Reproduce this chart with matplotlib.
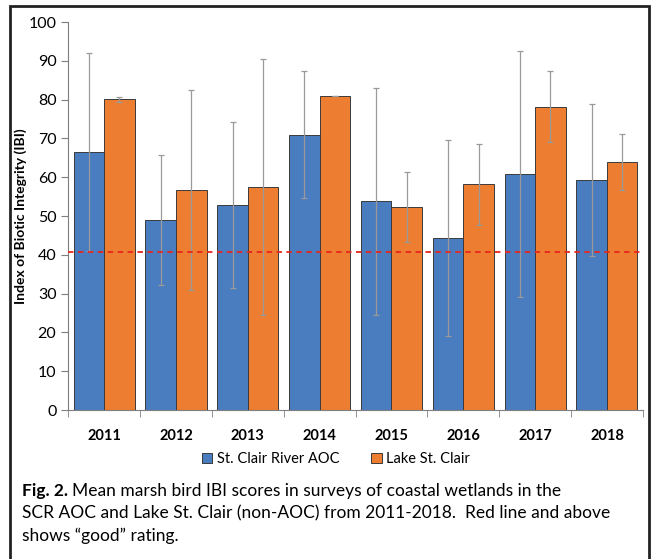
import numpy as np
import matplotlib
matplotlib.use('Agg')
import matplotlib.pyplot as plt
from matplotlib.patches import Rectangle

years = ['2011', '2012', '2013', '2014', '2015', '2016', '2017', '2018']
scr_aoc = [66.5, 49.0, 52.9, 71.0, 53.8, 44.4, 60.9, 59.3]
scr_err = [25.6, 16.7, 21.4, 16.3, 29.3, 25.3, 31.7, 19.6]
lake_sc = [80.1, 56.7, 57.5, 80.9, 52.3, 58.2, 78.2, 63.9]
lake_err = [0.7, 25.7, 33.0, 0.0, 9.1, 10.5, 9.1, 7.2]
good_line = 40.8

BLUE = '#4a7cc0'
ORANGE = '#ed7d31'

plt.rcParams['font.family'] = ['Lato', 'DejaVu Sans']

fig = plt.figure(figsize=(6.56, 5.59), dpi=100)
ax = fig.add_axes([0.104, 0.2665, 0.876, 0.694])

x = np.arange(len(years))
w = 0.425
err_kw = dict(ecolor='#9a9a9a', elinewidth=0.9, capsize=2, capthick=0.9)
ax.bar(x - w / 2, scr_aoc, w, color=BLUE, edgecolor='#3a3a3a', linewidth=0.7,
       yerr=scr_err, error_kw=err_kw, label='St. Clair River AOC')
ax.bar(x + w / 2, lake_sc, w, color=ORANGE, edgecolor='#3a3a3a', linewidth=0.7,
       yerr=lake_err, error_kw=err_kw, label='Lake St. Clair')
ax.axhline(good_line, color='#e8261c', linestyle=(0, (3, 2.5)), linewidth=1.3, zorder=5)

ax.set_xlim(-0.5, len(years) - 0.5)
ax.set_ylim(0, 100)
ax.set_yticks(np.arange(0, 101, 10))
ax.set_xticks(x)
ax.set_xticklabels(years, fontsize=10.5, fontweight='bold')
ax.set_xticks(np.arange(-0.5, len(years), 1), minor=True)
ax.tick_params(axis='x', which='major', length=0, pad=14)
ax.tick_params(axis='x', which='minor', length=5, color='#7f7f7f')
ax.tick_params(axis='y', length=5, color='#7f7f7f', labelsize=11.5)
for s in ['top', 'right']:
    ax.spines[s].set_visible(False)
for s in ['left', 'bottom']:
    ax.spines[s].set_color('#7f7f7f')
ax.set_ylabel('Index of Biotic Integrity (IBI)', fontsize=10, fontweight='bold')
ax.yaxis.set_label_coords(-0.072, 0.5)

ax.legend(loc='upper center', bbox_to_anchor=(0.466, -0.075), ncol=2, frameon=False,
          fontsize=10.5, handlelength=0.7, handleheight=0.7, handletextpad=0.3,
          columnspacing=2.2)

# caption
fig.canvas.draw()
r = fig.canvas.get_renderer()
t = fig.text(0.034, 0.112, 'Fig. 2.', fontsize=12.5, fontweight='bold', va='baseline')
bb = t.get_window_extent(r)
fig.text(bb.x1 / fig.bbox.width + 0.006, 0.112,
         'Mean marsh bird IBI scores in surveys of coastal wetlands in the',
         fontsize=12.5, va='baseline')
fig.text(0.034, 0.072, 'SCR AOC and Lake St. Clair (non-AOC) from 2011-2018.  Red line and above',
         fontsize=12.5, va='baseline')
fig.text(0.034, 0.032, 'shows \u201cgood\u201d rating.', fontsize=12.5, va='baseline')

fig.patches.append(Rectangle((0.015, -0.1), 0.975, 1.09, transform=fig.transFigure,
                             fill=False, edgecolor='#222222', linewidth=2))

fig.savefig('out.png', dpi=100)
